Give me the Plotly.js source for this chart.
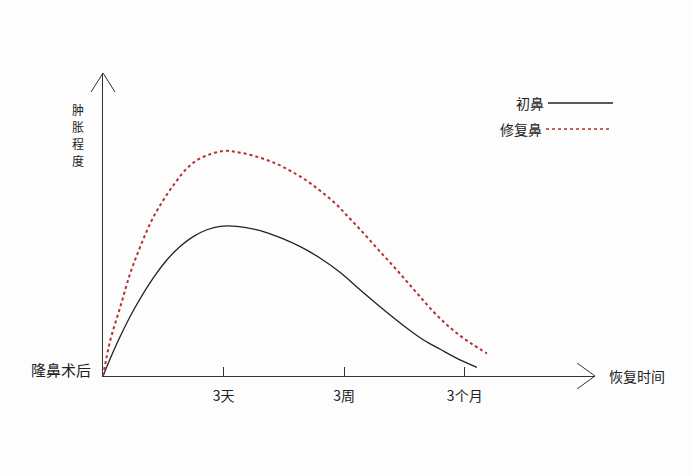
<!DOCTYPE html>
<html>
<head>
<meta charset="utf-8">
<script src="https://cdn.plot.ly/plotly-3.0.1.min.js"></script>
<style>html,body{margin:0;padding:0;background:#fdfdfd;}#chart{width:690px;height:476px;}</style>
</head>
<body>
<div id="chart"></div>
<script>
// Time positions: 0 = 隆鼻术后, 1 = 3天, 2 = 3周, 3 = 3个月
const tickVals = [1, 2, 3];
const tickLabels = ['3天', '3周', '3个月'];
const yLabelChars = ['肿', '胀', '程', '度'];

// 初鼻 (primary rhinoplasty) swelling curve
const primaryX = [0, 0.116, 0.254, 0.42, 0.531, 0.641, 0.751, 0.862, 0.973, 1.111, 1.304, 1.47, 1.636, 1.802, 1.968, 2.134, 2.30, 2.521, 2.658, 2.797, 2.935, 3.101];
const primaryY = [0, 0.218, 0.44, 0.658, 0.775, 0.865, 0.931, 0.975, 0.998, 0.998, 0.969, 0.922, 0.862, 0.785, 0.69, 0.573, 0.46, 0.318, 0.24, 0.178, 0.118, 0.058];

// 修复鼻 (revision rhinoplasty) swelling curve
const revisionX = [0, 0.061, 0.144, 0.226, 0.309, 0.392, 0.475, 0.585, 0.697, 0.807, 1.0, 1.138, 1.304, 1.443, 1.567, 1.692, 1.804, 1.926, 2.023, 2.119, 2.23, 2.327, 2.424, 2.521, 2.617, 2.714, 2.824, 2.935, 3.06, 3.184];
const revisionY = [0, 0.24, 0.462, 0.685, 0.862, 1.018, 1.14, 1.273, 1.385, 1.451, 1.5, 1.489, 1.455, 1.413, 1.362, 1.30, 1.233, 1.151, 1.07, 0.988, 0.89, 0.803, 0.718, 0.629, 0.54, 0.451, 0.362, 0.285, 0.213, 0.151];

const seriesNames = ['初鼻', '修复鼻'];
const FONT = '"Noto Sans CJK SC", "Noto Sans", sans-serif';

const traces = [
  {x: primaryX, y: primaryY, name: seriesNames[0], mode: 'lines',
   line: {color: '#222222', width: 1.3, shape: 'spline', smoothing: 1}, hoverinfo: 'skip'},
  {x: revisionX, y: revisionY, name: seriesNames[1], mode: 'lines',
   line: {color: '#b3312f', width: 2, dash: 'dot', shape: 'spline', smoothing: 1}, hoverinfo: 'skip'}
];

const W = 492, H = 303;
const annotations = [
  {xref: 'paper', yref: 'paper', x: 0, y: 0, xanchor: 'right', yanchor: 'middle',
   xshift: -10, yshift: 7, text: '隆鼻术后', showarrow: false, font: {size: 15, family: FONT, color: '#222'}},
  {xref: 'paper', yref: 'paper', x: 1, y: 0, xanchor: 'left', yanchor: 'middle',
   xshift: 12, text: '恢复时间', showarrow: false, font: {size: 14, family: FONT, color: '#222'}},
  {xref: 'paper', yref: 'paper', x: (546-103)/W, y: (376-103)/H, xanchor: 'right', yanchor: 'middle',
   text: seriesNames[0], showarrow: false, font: {size: 14, family: FONT, color: '#222'}},
  {xref: 'paper', yref: 'paper', x: (544-103)/W, y: (376-129)/H, xanchor: 'right', yanchor: 'middle',
   text: seriesNames[1], showarrow: false, font: {size: 14, family: FONT, color: '#222'}}
];
yLabelChars.forEach((ch, i) => {
  annotations.push({xref: 'paper', yref: 'paper', x: (78-103)/W, y: (376-(109 + i*17))/H,
    xanchor: 'center', yanchor: 'middle', borderpad: 0,
    text: ch, showarrow: false, font: {size: 12, family: FONT, color: '#222'}});
});

const layout = {
  width: 690, height: 476,
  margin: {l: 103, r: 95, t: 73, b: 100},
  paper_bgcolor: '#fdfdfd', plot_bgcolor: '#fdfdfd',
  showlegend: false,
  font: {family: FONT, color: '#222', size: 14},
  xaxis: {range: [0, 4.08], showgrid: false, zeroline: false, showline: true,
          linecolor: '#333', linewidth: 1, ticks: 'inside', ticklen: 9, tickcolor: '#333',
          tickvals: tickVals, ticktext: tickLabels, tickfont: {size: 14, family: FONT, color: '#222'},
          ticklabelstandoff: 7, fixedrange: true},
  yaxis: {range: [0, 2.02], showgrid: false, zeroline: false, showline: true,
          linecolor: '#333', linewidth: 1, showticklabels: false, ticks: '', fixedrange: true},
  shapes: [
    // x-axis arrow head
    {type: 'path', xref: 'paper', yref: 'paper',
     path: `M ${1 - 18/W} ${13/H} L 1 0 L ${1 - 18/W} ${-13/H}`,
     line: {color: '#333', width: 1}},
    // y-axis arrow head
    {type: 'path', xref: 'paper', yref: 'paper',
     path: `M ${-12/W} ${1 - 19/H} L 0 1 L ${12/W} ${1 - 19/H}`,
     line: {color: '#333', width: 1}},
    // legend line samples
    {type: 'line', xref: 'paper', yref: 'paper',
     x0: (548-103)/W, x1: (613-103)/W, y0: (376-103)/H, y1: (376-103)/H,
     line: {color: '#222', width: 1.3}},
    {type: 'line', xref: 'paper', yref: 'paper',
     x0: (546-103)/W, x1: (612-103)/W, y0: (376-129)/H, y1: (376-129)/H,
     line: {color: '#b3312f', width: 1.5, dash: 'dot'}}
  ],
  annotations: annotations
};

Plotly.newPlot('chart', traces, layout, {displayModeBar: false, staticPlot: true});
</script>
</body>
</html>
